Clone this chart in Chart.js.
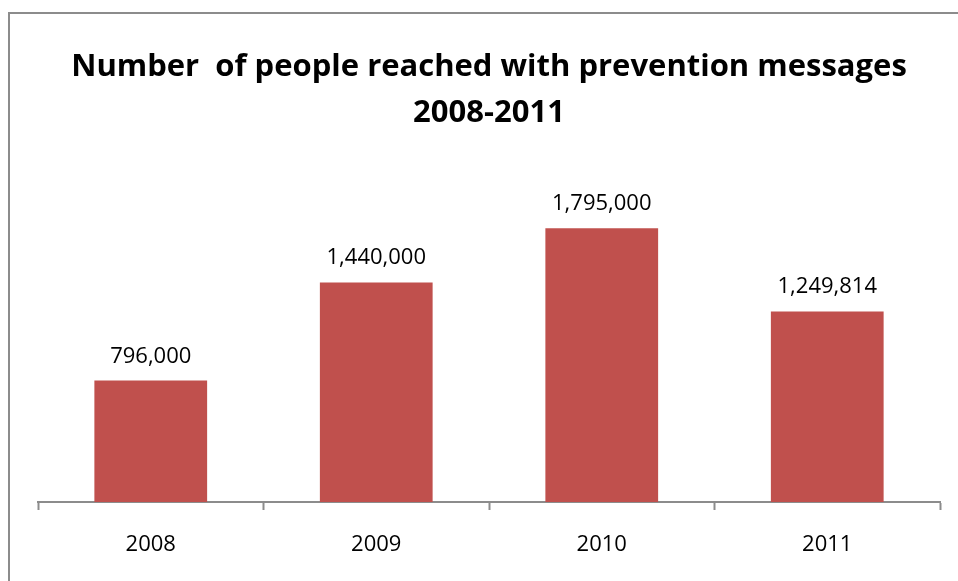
<!DOCTYPE html>
<html>
<head>
<meta charset="utf-8">
<title>People reached with prevention messages</title>
<script src="https://cdn.jsdelivr.net/npm/chart.js@4.4.1/dist/chart.umd.min.js"></script>
<style>
  html, body { margin: 0; padding: 0; background: #fff; overflow: hidden; }
  #wrap { position: relative; width: 958px; height: 581px; }
</style>
</head>
<body>
<div id="wrap"><canvas id="bar_chart"></canvas></div>
<script>
// yearly totals
const years = ["2008", "2009", "2010", "2011"];
const reached = [796000, 1440000, 1795000, 1249814];
const titleLines = ["Number  of people reached with prevention messages", "2008-2011"];

const FONT = "'Open Sans', 'Liberation Sans', sans-serif";

// frame around the whole chart
const framePlugin = {
    id: 'frame',
    afterDraw(chart) {
        const ctx = chart.ctx;
        ctx.save();
        ctx.strokeStyle = '#8c8c8c';
        ctx.lineWidth = 2;
        ctx.strokeRect(9, 13, chart.width + 20, chart.height + 20);
        ctx.restore();
    }
};

// number written above each bar
const valueLabels = {
    id: 'valueLabels',
    afterDatasetsDraw(chart) {
        const ctx = chart.ctx;
        const meta = chart.getDatasetMeta(0);
        ctx.save();
        ctx.font = '22px ' + FONT;
        ctx.fillStyle = '#000';
        ctx.textAlign = 'center';
        ctx.textBaseline = 'alphabetic';
        meta.data.forEach((bar, i) => {
            const v = chart.data.datasets[0].data[i];
            ctx.fillText(v.toLocaleString('en-US'), bar.x, bar.y - 18);
        });
        ctx.restore();
    }
};

const bar_chart = document.getElementById("bar_chart").getContext('2d');
new Chart(bar_chart, {
    type: 'bar',
    data: {
        labels: years,
        datasets: [{
            data: reached,
            backgroundColor: "#c0504d",
            borderWidth: 0,
            barPercentage: 0.5,
            categoryPercentage: 1.0
        }]
    },
    options: {
        responsive: true,
        maintainAspectRatio: false,
        animation: false,
        layout: {
            padding: { left: 38, right: 18, top: 0, bottom: 1 }
        },
        plugins: {
            legend: { display: false },
            tooltip: { enabled: false },
            title: {
                display: true,
                text: titleLines,
                color: '#000',
                font: { family: FONT, size: 31, weight: 'bold', lineHeight: 1.484 },
                padding: { top: 44, bottom: 61 }
            }
        },
        scales: {
            x: {
                offset: true,
                grid: {
                    display: true,
                    offset: true,
                    drawOnChartArea: false,
                    drawTicks: true,
                    tickLength: 8,
                    tickWidth: 2,
                    tickColor: '#8c8c8c'
                },
                border: { display: true, color: '#8c8c8c', width: 2 },
                ticks: {
                    color: '#000',
                    padding: 24,
                    font: { family: FONT, size: 22, lineHeight: 1.0 }
                }
            },
            y: {
                display: false,
                min: 0,
                max: 2000000
            }
        }
    },
    plugins: [framePlugin, valueLabels]
});
</script>
</body>
</html>
